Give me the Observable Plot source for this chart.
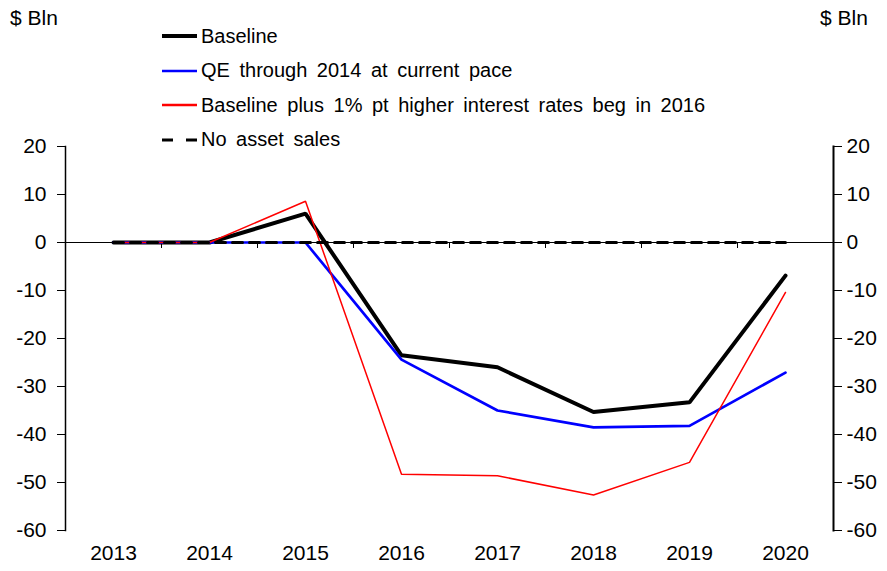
<!DOCTYPE html>
<html>
<head>
<meta charset="utf-8">
<script src="https://cdn.jsdelivr.net/npm/d3@7"></script>
<script src="https://cdn.jsdelivr.net/npm/@observablehq/plot@0.6"></script>
<style>
  html, body { margin: 0; padding: 0; background: #fff; }
  #wrap { position: relative; width: 887px; height: 571px; font-family: "Liberation Sans", Arial, sans-serif; }
  .unit { position: absolute; top: 6px; font-size: 21px; color: #000; }
  #legend { position: absolute; left: 162px; top: 19px; font-size: 20px; color: #000; }
  .row { display: flex; align-items: center; height: 34.5px; }
  .sw { display: block; margin-right: 4px; }
</style>
</head>
<body>
<div id="wrap">
  <div class="unit" style="left:10px;">$ Bln</div>
  <div class="unit" style="left:820px;">$ Bln</div>
  <div id="legend"></div>
</div>
<script>
const years = ["2013","2014","2015","2016","2017","2018","2019","2020"];
const baseline = [0, 0, 6.0, -23.5, -26.0, -35.3, -33.3, -6.9];
const qe = [0, 0, 0, -24.4, -35.0, -38.5, -38.2, -27.1];
const higherRates = [0, 0, 8.6, -48.3, -48.6, -52.6, -45.8, -10.4];
const noAssetSales = [0, 0, 0, 0, 0, 0, 0, 0];
const yTicks = [-60, -50, -40, -30, -20, -10, 0, 10, 20];
const seriesNames = ["Baseline", "QE through 2014 at current pace", "Baseline plus 1% pt higher interest rates beg in 2016", "No asset sales"];

const toRows = (vals) => years.map((y, i) => ({year: y, value: vals[i]}));

const styles = [
  {stroke: "#000000", strokeWidth: 4, dash: null},
  {stroke: "#0000ff", strokeWidth: 2.7, dash: null},
  {stroke: "#ff0000", strokeWidth: 1.5, dash: null},
  {stroke: "#000000", strokeWidth: 3, dash: "10,7"}
];

const chart = Plot.plot({
  width: 887,
  height: 571,
  marginLeft: 65,
  marginRight: 54,
  marginTop: 146,
  marginBottom: 41,
  style: {fontFamily: "'Liberation Sans', Arial, sans-serif", fontSize: "21px", color: "#000", background: "transparent"},
  x: {type: "point", domain: years, padding: 0.5, axis: null},
  y: {domain: [-60, 20], axis: null},
  marks: [
    Plot.frame({anchor: "left", stroke: "#000", strokeWidth: 1.5}),
    Plot.frame({anchor: "right", stroke: "#000", strokeWidth: 2}),
    Plot.axisY({anchor: "left", ticks: yTicks, tickSize: 8, tickPadding: 11, fontSize: 21, tickFormat: d => String(d), stroke: "#000", label: null}),
    Plot.axisY({anchor: "right", ticks: yTicks, tickSize: 8, tickPadding: 5, fontSize: 21, tickFormat: d => String(d), stroke: "#000", label: null}),
    Plot.axisX({anchor: "bottom", tickSize: 0, tickPadding: 15, fontSize: 21, label: null}),
    Plot.ruleY([0], {stroke: "#000", strokeWidth: 1.2}),
    Plot.ruleX(years.slice(1), {x: d => d, y1: 0, y2: -1.25, dx: -48, stroke: "#000", strokeWidth: 1}),
    Plot.line(toRows(baseline), {x: "year", y: "value", stroke: styles[0].stroke, strokeWidth: styles[0].strokeWidth, strokeLinejoin: "miter"}),
    Plot.line(toRows(qe), {x: "year", y: "value", stroke: styles[1].stroke, strokeWidth: styles[1].strokeWidth, strokeLinejoin: "miter"}),
    Plot.line(toRows(higherRates), {x: "year", y: "value", stroke: styles[2].stroke, strokeWidth: styles[2].strokeWidth, strokeLinejoin: "miter"}),
    Plot.line(toRows(noAssetSales), {x: "year", y: "value", stroke: styles[3].stroke, strokeWidth: styles[3].strokeWidth, strokeDasharray: styles[3].dash})
  ]
});
chart.style.position = "absolute";
chart.style.left = "0px";
chart.style.top = "0px";
document.getElementById("wrap").prepend(chart);

const legend = document.getElementById("legend");
const NS = "http://www.w3.org/2000/svg";
seriesNames.forEach((name, i) => {
  const s = styles[i];
  const row = document.createElement("div");
  row.className = "row";
  const sw = document.createElementNS(NS, "svg");
  sw.setAttribute("class", "sw");
  sw.setAttribute("width", "35");
  sw.setAttribute("height", "6");
  const ln = document.createElementNS(NS, "line");
  ln.setAttribute("x1", "0"); ln.setAttribute("x2", "35");
  ln.setAttribute("y1", "3"); ln.setAttribute("y2", "3");
  ln.setAttribute("stroke", s.stroke);
  ln.setAttribute("stroke-width", String(Math.max(s.strokeWidth, 2.5)));
  if (s.dash) ln.setAttribute("stroke-dasharray", "11,13");
  sw.appendChild(ln);
  const label = document.createElement("span");
  label.textContent = name;
  label.style.wordSpacing = "4px";
  row.appendChild(sw);
  row.appendChild(label);
  legend.appendChild(row);
});
</script>
</body>
</html>
